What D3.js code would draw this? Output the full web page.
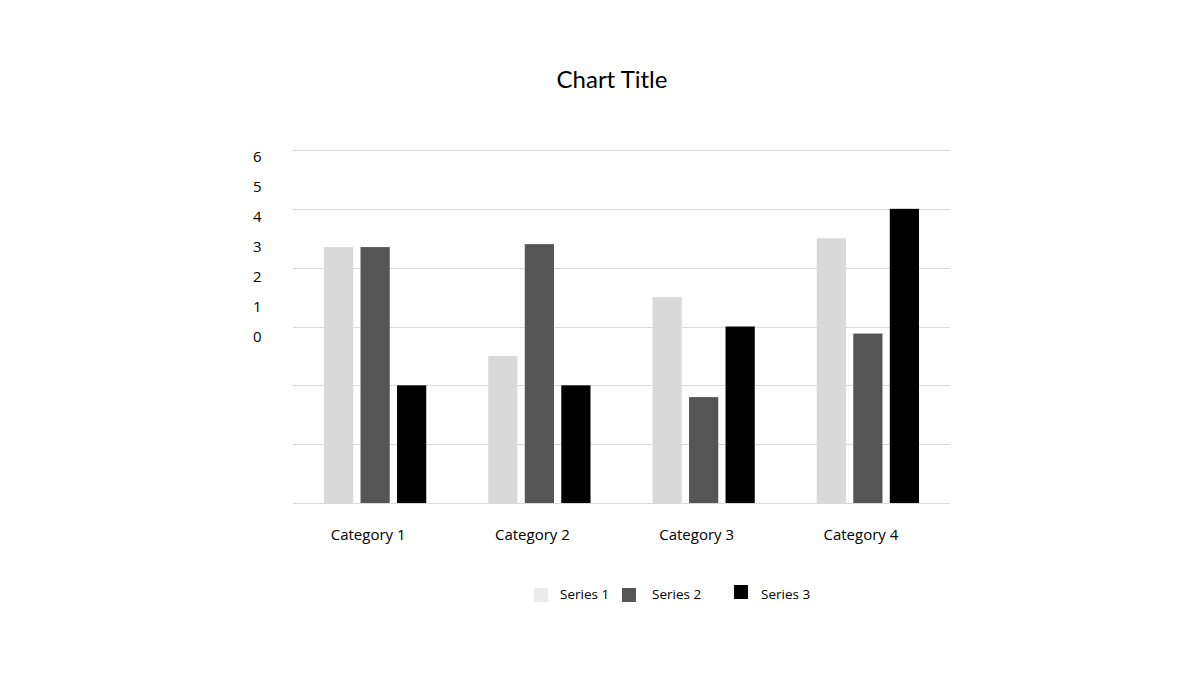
<!DOCTYPE html>
<html>
<head>
<meta charset="utf-8">
<script src="https://cdn.jsdelivr.net/npm/d3@7"></script>
<style>
  body { margin: 0; background: #fff; }
  text { font-family: "Open Sans", sans-serif; fill: #000; }
</style>
</head>
<body>
<div id="mychart"></div>
<script>
const categories = ["Category 1", "Category 2", "Category 3", "Category 4"];
const seriesNames = ["Series 1", "Series 2", "Series 3"];
const series1 = [4.35, 2.5, 3.5, 4.5];
const series2 = [4.35, 4.4, 1.8, 2.88];
const series3 = [2, 2, 3, 5];
const yTickLabels = [0, 1, 2, 3, 4, 5, 6];

const seriesValues = [series1, series2, series3];
const colors = ["#d9d9d9", "#555555", "#000000"];
const legendColors = ["#ebebeb", "#555555", "#000000"];

const width = 1200;
const height = 675;

const svg = d3.select("#mychart")
  .append("svg")
    .attr("width", width)
    .attr("height", height)
    .attr("viewBox", [0, 0, width, height]);

// title
svg.append("text")
  .attr("x", 612)
  .attr("y", 88)
  .attr("text-anchor", "middle")
  .style("font-family", "Lato, sans-serif")
  .attr("font-size", 24)
  .text("Chart Title");

const x0 = d3.scaleBand()
  .domain(categories)
  .range([293, 950]);

const x1 = d3.scaleBand()
  .domain(seriesNames)
  .range([31, x0.bandwidth() - 31])
  .paddingInner(0.2);

const y = d3.scaleLinear()
  .domain([0, 6])
  .range([503, 150]);

// gridlines
svg.append("g")
  .attr("stroke", "#d9d9d9")
  .attr("stroke-width", 1)
  .selectAll("line")
  .data(y.ticks(6))
  .join("line")
    .attr("x1", 293)
    .attr("x2", 950)
    .attr("y1", d => Math.round(y(d)) + 0.5)
    .attr("y2", d => Math.round(y(d)) + 0.5);

// tick labels (these sit on their own, tighter scale in the reference)
const yLabel = d3.scaleLinear()
  .domain([0, 6])
  .range([337, 157]);

svg.append("g")
  .selectAll("text")
  .data(yTickLabels)
  .join("text")
    .attr("x", 253)
    .attr("y", d => yLabel(d))
    .attr("dy", "0.35em")
    .attr("font-size", 15)
    .text(d => d);

// bars
const groups = svg.append("g")
  .selectAll("g")
  .data(categories)
  .join("g")
    .attr("transform", d => `translate(${x0(d)},0)`);

groups.selectAll("rect")
  .data((d, i) => seriesNames.map((s, j) => ({ s, v: seriesValues[j][i], j })))
  .join("rect")
    .attr("x", d => x1(d.s))
    .attr("y", d => y(d.v))
    .attr("width", x1.bandwidth())
    .attr("height", d => y(0) - y(d.v))
    .attr("fill", d => colors[d.j]);

// category labels
svg.append("g")
  .selectAll("text")
  .data(categories)
  .join("text")
    .attr("x", d => x0(d) + x0.bandwidth() / 2 - 7)
    .attr("y", 540)
    .attr("text-anchor", "middle")
    .attr("font-size", 15)
    .text(d => d);

// legend
const legendX = [534, 622, 734];
const legendY = [588, 588, 585];
const legend = svg.append("g")
  .selectAll("g")
  .data(seriesNames)
  .join("g");

legend.append("rect")
  .attr("x", (d, i) => legendX[i])
  .attr("y", (d, i) => legendY[i])
  .attr("width", 14)
  .attr("height", 14)
  .attr("fill", (d, i) => legendColors[i]);

legend.append("text")
  .attr("x", (d, i) => legendX[i] + [26, 30, 27][i])
  .attr("y", 599)
  .attr("font-size", 13.5)
  .text(d => d);
</script>
</body>
</html>
